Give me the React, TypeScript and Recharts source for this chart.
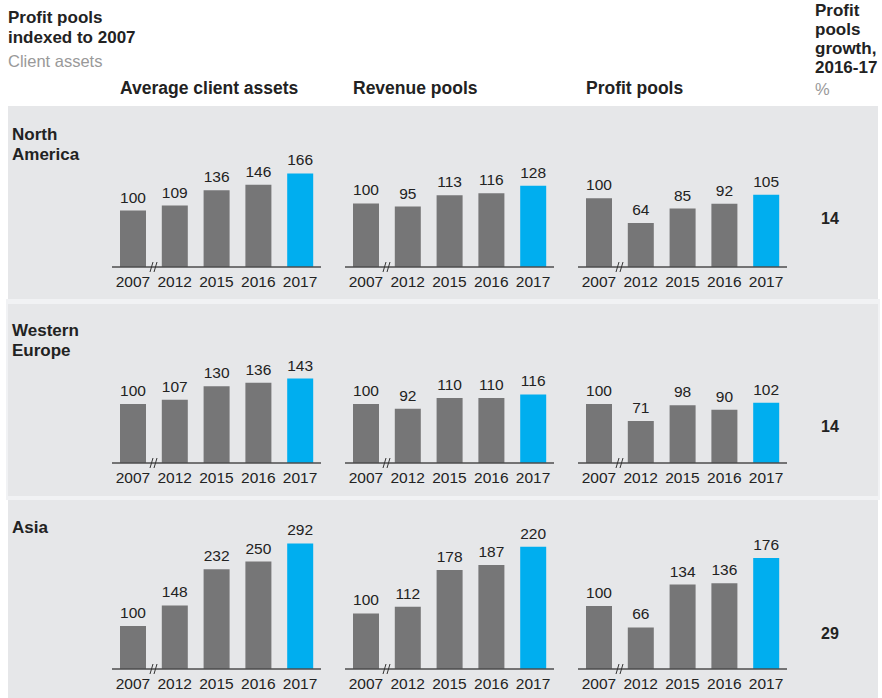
import { BarChart, Bar, XAxis, YAxis, Cell, LabelList } from "recharts"

const FONT = '"Liberation Sans", Arial, Helvetica, sans-serif'
const GRAY = "#767677"
const BLUE = "#00aeef"
const BAND = "#e6e7e9"
const TEXT = "#222"

// data
const years = ["2007", "2012", "2015", "2016", "2017"]
const regions = [["North", "America"], ["Western", "Europe"], ["Asia"]]
const metrics = ["Average client assets", "Revenue pools", "Profit pools"]

const naAssets = [100, 109, 136, 146, 166]
const naRevenue = [100, 95, 113, 116, 128]
const naProfit = [100, 64, 85, 92, 105]

const weAssets = [100, 107, 130, 136, 143]
const weRevenue = [100, 92, 110, 110, 116]
const weProfit = [100, 71, 98, 90, 102]

const asAssets = [100, 148, 232, 250, 292]
const asRevenue = [100, 112, 178, 187, 220]
const asProfit = [100, 66, 134, 136, 176]

const growth = [14, 14, 29]

// each panel has its own value axis in the original
const axisMax = [
  [266, 236, 218],
  [254, 254, 254],
  [349, 270, 238],
]

// layout
const PLOT_H = 150
const AXIS_W = 209
const colX = [112, 345, 578]
const rowTop = [106, 304, 500]
const rowBottom = [299, 496, 698]
const axisY = [267, 463, 669]
const labelTop = [125, 321, 518]
const growthTop = [209, 417, 624]

const rows = [
  [naAssets, naRevenue, naProfit],
  [weAssets, weRevenue, weProfit],
  [asAssets, asRevenue, asProfit],
]

function Panel({ values, max, left, bottom }: { values: number[]; max: number; left: number; bottom: number }) {
  const data = years.map((year, i) => ({ year, value: values[i] }))
  const step = AXIS_W / years.length
  return (
    <div style={{ position: "absolute", left: left - 10, top: bottom - PLOT_H }}>
      <BarChart width={AXIS_W + 20} height={PLOT_H + 30} data={data} margin={{ top: 0, right: 10, bottom: 0, left: 10 }}>
        <XAxis
          dataKey="year"
          interval={0}
          height={30}
          tickLine={false}
          tickSize={0}
          tickMargin={9}
          axisLine={{ stroke: "#4d4d4d", strokeWidth: 1.5 }}
          tick={{ fontSize: 15.5, fill: TEXT, fontFamily: FONT }}
        />
        <YAxis hide domain={[0, max]} allowDataOverflow />
        <Bar dataKey="value" barSize={26} isAnimationActive={false}>
          {data.map((d, i) => (
            <Cell key={d.year} fill={i === data.length - 1 ? BLUE : GRAY} />
          ))}
          <LabelList dataKey="value" position="top" offset={8} fill={TEXT} fontSize={15.5} fontFamily={FONT} />
        </Bar>
      </BarChart>
      <svg
        width={12}
        height={12}
        style={{ position: "absolute", left: 10 + step - 6, top: PLOT_H - 6 }}
      >
        <line x1={2} y1={11} x2={5} y2={1} stroke="#333" strokeWidth={1} />
        <line x1={6} y1={11} x2={9} y2={1} stroke="#333" strokeWidth={1} />
      </svg>
    </div>
  )
}

const bold = { fontWeight: 700, fontSize: 17, lineHeight: "20px", color: TEXT, whiteSpace: "nowrap" as const }

export default function App() {
  return (
    <div
      style={{
        position: "absolute",
        left: 0,
        top: 0,
        width: 882,
        height: 698,
        background: "#fff",
        overflow: "hidden",
        fontFamily: FONT,
      }}
    >
      {/* strips between rows */}
      <div style={{ position: "absolute", left: 6, top: 299, width: 874, height: 201, background: "#f1f2f4" }} />
      {rowTop.map((t, i) => (
        <div
          key={t}
          style={{ position: "absolute", left: 8, top: t, width: 870, height: rowBottom[i] - t, background: BAND }}
        />
      ))}

      <div style={{ ...bold, position: "absolute", left: 8, top: 8 }}>
        Profit pools
        <br />
        indexed to 2007
      </div>
      <div style={{ position: "absolute", left: 8, top: 51, fontSize: 16.5, lineHeight: "20px", color: "#999" }}>
        Client assets
      </div>

      {metrics.map((m, i) => (
        <div key={m} style={{ ...bold, fontSize: 17.5, position: "absolute", left: colX[i] + 8, top: 78 }}>
          {m}
        </div>
      ))}

      <div style={{ ...bold, lineHeight: "19px", position: "absolute", left: 815, top: 1 }}>
        Profit
        <br />
        pools
        <br />
        growth,
        <br />
        2016-17
      </div>
      <div style={{ position: "absolute", left: 815, top: 79, fontSize: 16.5, lineHeight: "20px", color: "#999" }}>
        %
      </div>

      {regions.map((r, i) => (
        <div key={r.join(" ")} style={{ ...bold, position: "absolute", left: 12, top: labelTop[i] }}>
          {r.map((line, j) => (
            <div key={j}>{line}</div>
          ))}
        </div>
      ))}

      {growth.map((g, i) => (
        <div
          key={i}
          style={{ position: "absolute", left: 821, top: growthTop[i], fontSize: 16, fontWeight: 700, lineHeight: "20px", color: TEXT }}
        >
          {g}
        </div>
      ))}

      {rows.map((row, r) =>
        row.map((values, c) => (
          <Panel key={`${r}-${c}`} values={values} max={axisMax[r][c]} left={colX[c]} bottom={axisY[r]} />
        ))
      )}
    </div>
  )
}
